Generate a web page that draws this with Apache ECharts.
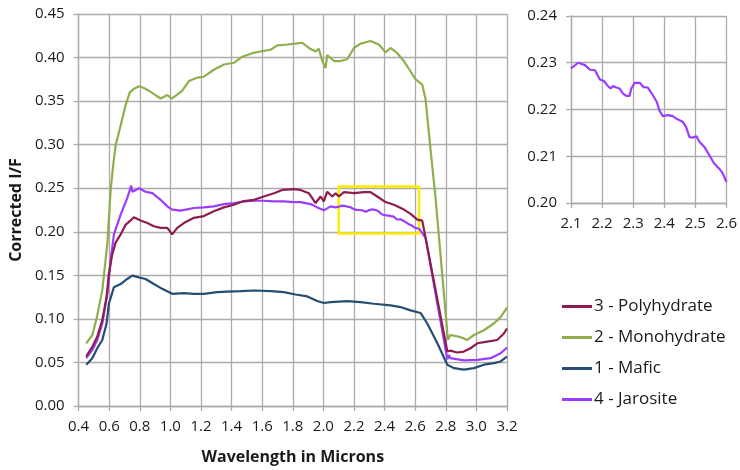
<!DOCTYPE html>
<html>
<head>
<meta charset="utf-8">
<script src="https://cdn.jsdelivr.net/npm/echarts@6/dist/echarts.min.js"></script>
<style>
html,body{margin:0;padding:0;background:#fff;}
#chart{width:740px;height:470px;}
</style>
</head>
<body>
<div id="chart"></div>
<script>
// ---- Data (wavelength in microns, corrected I/F) ----
const seriesNames = ['3 - Polyhydrate', '2 - Monohydrate', '1 - Mafic', '4 - Jarosite'];

const polyhydrate = [[0.45,0.057],[0.49,0.068],[0.522,0.0795],[0.555,0.0985],[0.583,0.125],[0.598,0.1515],[0.62,0.174],[0.642,0.1875],[0.675,0.197],[0.707,0.208],[0.74,0.213],[0.761,0.2167],[0.773,0.216],[0.805,0.213],[0.849,0.210],[0.892,0.2064],[0.936,0.2045],[0.98,0.2045],[1.012,0.197],[1.045,0.2045],[1.088,0.210],[1.154,0.216],[1.219,0.218],[1.284,0.2235],[1.35,0.228],[1.415,0.231],[1.47,0.2348],[1.546,0.2367],[1.611,0.2405],[1.677,0.2443],[1.731,0.248],[1.807,0.2489],[1.851,0.248],[1.905,0.2443],[1.949,0.233],[1.982,0.2405],[2.003,0.2348],[2.025,0.246],[2.058,0.2405],[2.08,0.2443],[2.101,0.2405],[2.134,0.2455],[2.2,0.2443],[2.265,0.2455],[2.308,0.2455],[2.352,0.2405],[2.406,0.2341],[2.461,0.231],[2.516,0.2265],[2.57,0.2205],[2.614,0.214],[2.646,0.2128],[2.668,0.193],[2.81,0.0625],[2.83,0.0636],[2.875,0.0614],[2.918,0.0625],[2.962,0.0663],[3.006,0.072],[3.071,0.0739],[3.136,0.0758],[3.18,0.0833],[3.2,0.089]];

const monohydrate = [[0.45,0.072],[0.49,0.0815],[0.52,0.102],[0.555,0.133],[0.588,0.186],[0.609,0.246],[0.627,0.278],[0.642,0.299],[0.675,0.322],[0.707,0.345],[0.735,0.360],[0.761,0.364],[0.794,0.367],[0.827,0.365],[0.86,0.362],[0.892,0.358],[0.936,0.353],[0.98,0.357],[1.008,0.353],[1.034,0.356],[1.078,0.362],[1.121,0.373],[1.176,0.377],[1.219,0.378],[1.284,0.386],[1.35,0.392],[1.415,0.394],[1.47,0.401],[1.535,0.405],[1.59,0.407],[1.655,0.409],[1.699,0.414],[1.764,0.415],[1.818,0.416],[1.862,0.417],[1.905,0.411],[1.949,0.407],[1.97,0.410],[1.993,0.396],[2.014,0.388],[2.025,0.403],[2.069,0.396],[2.112,0.396],[2.156,0.398],[2.2,0.411],[2.243,0.416],[2.308,0.419],[2.363,0.415],[2.406,0.406],[2.439,0.411],[2.483,0.405],[2.526,0.396],[2.57,0.384],[2.603,0.375],[2.646,0.369],[2.668,0.352],[2.7,0.295],[2.733,0.239],[2.814,0.076],[2.83,0.0815],[2.875,0.080],[2.918,0.0776],[2.94,0.0758],[2.984,0.0815],[3.049,0.087],[3.114,0.0947],[3.158,0.102],[3.2,0.113]];

const mafic = [[0.45,0.0474],[0.49,0.0549],[0.522,0.0663],[0.555,0.0758],[0.583,0.0947],[0.598,0.1174],[0.631,0.1364],[0.675,0.140],[0.718,0.1458],[0.751,0.1496],[0.794,0.1477],[0.838,0.1458],[0.892,0.140],[0.947,0.1345],[1.012,0.1288],[1.088,0.1295],[1.154,0.1288],[1.219,0.1288],[1.306,0.1307],[1.372,0.1314],[1.459,0.1318],[1.546,0.1326],[1.655,0.1318],[1.742,0.1307],[1.818,0.128],[1.895,0.1258],[1.96,0.1205],[2.003,0.1182],[2.047,0.1193],[2.156,0.1205],[2.243,0.1193],[2.33,0.1174],[2.439,0.1155],[2.504,0.1136],[2.57,0.1098],[2.635,0.1068],[2.679,0.0947],[2.745,0.072],[2.81,0.0474],[2.853,0.0435],[2.918,0.0417],[2.984,0.0435],[3.049,0.0474],[3.114,0.0492],[3.158,0.0511],[3.2,0.0568]];

const jarositeStart = [[0.45,0.0549],[0.49,0.0644],[0.522,0.0758],[0.555,0.0947],[0.588,0.1288],[0.609,0.1667],[0.631,0.197],[0.675,0.2197],[0.718,0.2386],[0.744,0.253],[0.752,0.246],[0.794,0.250],[0.838,0.246],[0.882,0.2443],[0.936,0.2367],[0.98,0.2292],[1.012,0.2254],[1.067,0.2242],[1.154,0.2273],[1.219,0.228],[1.284,0.2292],[1.35,0.2318],[1.415,0.233],[1.48,0.2348],[1.546,0.2356],[1.611,0.2356],[1.677,0.2348],[1.742,0.2348],[1.807,0.2341],[1.851,0.2341],[1.916,0.2318],[1.96,0.228],[2.003,0.2246],[2.047,0.2292],[2.08,0.228]];

// Jarosite detail 2.1 - 2.6 (shown in the inset)
const jarositeDetail = [[2.10,0.2288],[2.123,0.2300],[2.145,0.2295],[2.161,0.2285],[2.177,0.2284],[2.193,0.2264],[2.206,0.2261],[2.216,0.2252],[2.227,0.2245],[2.235,0.2250],[2.246,0.2247],[2.256,0.2245],[2.267,0.2234],[2.278,0.2229],[2.288,0.2229],[2.294,0.2245],[2.305,0.2257],[2.321,0.2257],[2.333,0.2248],[2.347,0.2247],[2.363,0.2231],[2.376,0.2216],[2.384,0.2198],[2.395,0.2186],[2.411,0.2188],[2.427,0.2186],[2.443,0.2179],[2.459,0.2174],[2.470,0.2163],[2.481,0.2141],[2.492,0.2140],[2.503,0.2143],[2.513,0.2131],[2.529,0.2120],[2.545,0.2102],[2.560,0.2085],[2.576,0.2074],[2.587,0.2065],[2.600,0.2045]];

const jarositeEnd = [[2.625,0.2035],[2.668,0.193],[2.81,0.0535],[2.82,0.0585],[2.83,0.0549],[2.918,0.0523],[3.006,0.053],[3.093,0.0549],[3.158,0.0606],[3.2,0.067]];

const jarosite = jarositeStart.concat(jarositeDetail, jarositeEnd);

// Highlight box (x1, y1) - (x2, y2)
const highlightBox = [[2.1, 0.252], [2.625, 0.198]];

// Axis settings
const mainX = {min: 0.4, max: 3.2, step: 0.2};
const mainY = {min: 0, max: 0.45, step: 0.05};
const insetX = {min: 2.1, max: 2.6, step: 0.1};
const insetY = {min: 0.20, max: 0.24, step: 0.01};

const colors = {
  '3 - Polyhydrate': '#8E1D4F',
  '2 - Monohydrate': '#8FAF4C',
  '1 - Mafic': '#264D74',
  '4 - Jarosite': '#9B3DFF'
};

const FONT = "'Open Sans', 'Liberation Sans', sans-serif";
const gridColor = '#ababab';
const textColor = '#1a1a1a';

function valueAxis(gridIndex, cfg, digits, extra) {
  return Object.assign({
    type: 'value',
    gridIndex: gridIndex,
    min: cfg.min,
    max: cfg.max,
    interval: cfg.step,
    axisLine: {show: true, lineStyle: {color: gridColor, width: 1.3}},
    axisTick: {show: true, length: 5, lineStyle: {color: gridColor, width: 1.3}},
    splitLine: {show: true, lineStyle: {color: gridColor, width: 1.3}},
    axisLabel: {
      color: textColor, fontFamily: FONT, fontSize: 15,
      formatter: v => Number(v).toFixed(digits)
    }
  }, extra || {});
}

const chart = echarts.init(document.getElementById('chart'), null, {renderer: 'canvas'});

function lineSeries(name, data, xi, yi, extra) {
  return Object.assign({
    name: name,
    type: 'line',
    xAxisIndex: xi,
    yAxisIndex: yi,
    data: data,
    showSymbol: false,
    symbol: 'none',
    smooth: false,
    animation: false,
    lineStyle: {color: colors[name], width: 2.2},
    itemStyle: {color: colors[name]}
  }, extra || {});
}

const option = {
  backgroundColor: '#ffffff',
  animation: false,
  textStyle: {fontFamily: FONT},
  grid: [
    {left: 78, top: 14, width: 429, height: 396},
    {left: 571, top: 16, width: 157, height: 187}
  ],
  xAxis: [
    valueAxis(0, mainX, 1, {
      name: 'Wavelength in Microns',
      nameLocation: 'middle',
      nameGap: 43,
      nameTextStyle: {color: textColor, fontFamily: FONT, fontSize: 16, fontWeight: 'bold'},
      axisLabel: {color: textColor, fontFamily: FONT, fontSize: 15, margin: 13,
        formatter: v => Number(v).toFixed(1)}
    }),
    valueAxis(1, insetX, 1, {
      axisLabel: {color: textColor, fontFamily: FONT, fontSize: 15, margin: 13,
        formatter: v => Number(v).toFixed(1)}
    })
  ],
  yAxis: [
    valueAxis(0, mainY, 2, {
      name: 'Corrected I/F',
      nameLocation: 'middle',
      nameGap: 46,
      nameTextStyle: {color: textColor, fontFamily: FONT, fontSize: 16, fontWeight: 'bold'},
      axisLabel: {color: textColor, fontFamily: FONT, fontSize: 15, margin: 14,
        formatter: v => Number(v).toFixed(2)}
    }),
    valueAxis(1, insetY, 2, {
      axisLabel: {color: textColor, fontFamily: FONT, fontSize: 15, margin: 14,
        formatter: v => Number(v).toFixed(2)}
    })
  ],
  legend: {
    data: seriesNames,
    orient: 'vertical',
    left: 557,
    top: 293,
    itemWidth: 30,
    itemHeight: 3,
    itemGap: 14,
    icon: 'rect',
    textStyle: {color: textColor, fontFamily: FONT, fontSize: 17, padding: [0, 0, 0, -3]},
    selectedMode: false
  },
  series: [
    lineSeries('4 - Jarosite', jarosite, 0, 0),
    lineSeries('1 - Mafic', mafic, 0, 0),
    lineSeries('2 - Monohydrate', monohydrate, 0, 0),
    lineSeries('3 - Polyhydrate', polyhydrate, 0, 0, {
      markArea: {
        silent: true,
        itemStyle: {color: 'rgba(0,0,0,0)', borderColor: '#FFEA00', borderWidth: 2.5},
        data: [[{coord: highlightBox[0]}, {coord: highlightBox[1]}]]
      }
    }),
    lineSeries('4 - Jarosite', jarositeDetail, 1, 1)
  ]
};

chart.setOption(option);
</script>
</body>
</html>
